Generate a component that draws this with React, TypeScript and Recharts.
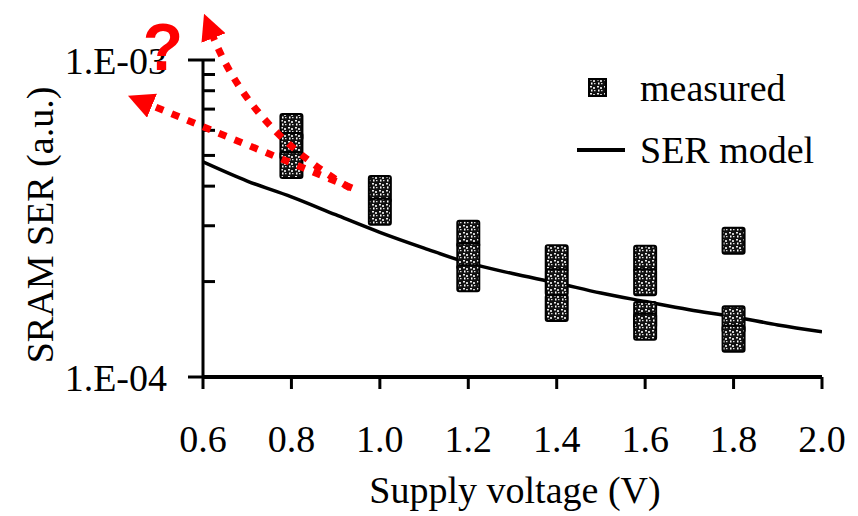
import React from "react";
import {
    ComposedChart,
    Line,
    Scatter,
    XAxis,
    YAxis,
} from "recharts";

const FONT = '"Liberation Serif", "Times New Roman", serif';

// SER model curve
const modelVoltage = [0.6, 0.7, 0.8, 0.9, 1.0, 1.1, 1.2, 1.3, 1.4, 1.5, 1.6, 1.7, 1.8, 1.9, 2.0];
const modelSer = [
    4.77e-4, 4.15e-4, 3.7e-4, 3.25e-4, 2.86e-4, 2.55e-4, 2.29e-4, 2.12e-4,
    1.98e-4, 1.84e-4, 1.73e-4, 1.63e-4, 1.55e-4, 1.46e-4, 1.39e-4,
];

// measured points (stacked squares)
const measuredVoltage = [
    0.8, 0.8, 0.8,
    1.0, 1.0,
    1.2, 1.2, 1.2,
    1.4, 1.4, 1.4,
    1.6, 1.6, 1.6, 1.6,
    1.8, 1.8, 1.8,
];
const measuredSer = [
    6.15e-4, 5.35e-4, 4.66e-4,
    3.92e-4, 3.32e-4,
    2.83e-4, 2.41e-4, 2.05e-4,
    2.37e-4, 1.99e-4, 1.65e-4,
    2.36e-4, 1.99e-4, 1.57e-4, 1.44e-4,
    2.69e-4, 1.52e-4, 1.32e-4,
];

const xTicks = [0.6, 0.8, 1.0, 1.2, 1.4, 1.6, 1.8, 2.0];
const yTicks = [1e-4, 2e-4, 3e-4, 4e-4, 5e-4, 6e-4, 7e-4, 8e-4, 9e-4, 1e-3];
const yLabels: Record<string, string> = { "0.0001": "1.E-04", "0.001": "1.E-03" };

const modelData = modelVoltage.map((v, i) => ({ v, ser: modelSer[i] }));
const measuredData = measuredVoltage.map((v, i) => ({ v, ser: measuredSer[i] }));

function SpeckleDefs() {
    return (
        <defs>
            <pattern id="speckle" width="7" height="7" patternUnits="userSpaceOnUse">
                <rect width="7" height="7" fill="#111" />
                <rect x="1" y="1" width="2" height="1.5" fill="#eee" />
                <rect x="4" y="2" width="2" height="2" fill="#ccc" />
                <rect x="2" y="4.5" width="1.5" height="2" fill="#fff" />
                <rect x="5" y="5" width="1.5" height="1.2" fill="#ddd" />
            </pattern>
        </defs>
    );
}

function MeasuredShape(props: any) {
    const { cx, cy } = props;
    const w = 22;
    const h = 26;
    return (
        <g>
            <SpeckleDefs />
            <rect
                x={cx - w / 2}
                y={cy - h / 2}
                width={w}
                height={h}
                fill="url(#speckle)"
                stroke="#000"
                strokeWidth={2}
                rx={2}
            />
        </g>
    );
}

function YTick(props: any) {
    const { x, y, payload } = props;
    const label = yLabels[String(payload.value)];
    const major = !!label;
    return (
        <g>
            <line x1={major ? x - 15 : x} x2={x + 12} y1={y} y2={y} stroke="#000" strokeWidth={3} />
            {major && (
                <text x={x - 36} y={y} dy="0.36em" textAnchor="end" fontSize={38} fontFamily={FONT} fill="#000">
                    {label}
                </text>
            )}
        </g>
    );
}

function ChartLegend() {
    return (
        <div
            style={{
                position: "absolute",
                left: 575,
                top: 57,
                fontFamily: FONT,
                fontSize: 38,
                color: "#000",
                lineHeight: "62px",
            }}
        >
            <div style={{ display: "flex", alignItems: "center" }}>
                <svg width={65} height={62}>
                    <SpeckleDefs />
                    <rect x={14} y={22} width={17} height={17} fill="url(#speckle)" stroke="#000" strokeWidth={2} />
                </svg>
                <span>measured</span>
            </div>
            <div style={{ display: "flex", alignItems: "center" }}>
                <svg width={65} height={62}>
                    <line x1={2} x2={50} y1={31} y2={31} stroke="#000" strokeWidth={4} />
                </svg>
                <span>SER model</span>
            </div>
        </div>
    );
}

export default function App() {
    return (
        <div style={{ position: "absolute", left: 0, top: 0, width: 858, height: 516, background: "#fff" }}>
            <ComposedChart
                width={858}
                height={516}
                margin={{ top: 60, right: 36, left: 83, bottom: 79 }}
            >
                <XAxis
                    type="number"
                    dataKey="v"
                    domain={[0.6, 2.0]}
                    ticks={xTicks}
                    tickFormatter={(v: number) => v.toFixed(1)}
                    height={60}
                    axisLine={{ stroke: "#000", strokeWidth: 4 }}
                    tickLine={{ stroke: "#000", strokeWidth: 3 }}
                    tickSize={12}
                    tickMargin={36}
                    tick={{ fontSize: 38, fontFamily: FONT, fill: "#000" }}
                    allowDataOverflow
                />
                <YAxis
                    type="number"
                    dataKey="ser"
                    scale="log"
                    domain={[1e-4, 1e-3]}
                    ticks={yTicks}
                    width={120}
                    axisLine={{ stroke: "#000", strokeWidth: 3 }}
                    tickLine={false}
                    tickSize={0}
                    tickMargin={0}
                    tick={<YTick />}
                    interval={0}
                    allowDataOverflow
                />
                <Line
                    data={modelData}
                    dataKey="ser"
                    name="SER model"
                    type="monotone"
                    stroke="#000"
                    strokeWidth={3.5}
                    dot={false}
                    isAnimationActive={false}
                />
                <Scatter
                    data={measuredData}
                    dataKey="ser"
                    name="measured"
                    shape={MeasuredShape}
                    isAnimationActive={false}
                />
            </ComposedChart>
            <ChartLegend />
            <svg
                width={858}
                height={516}
                style={{ position: "absolute", left: 0, top: 0, pointerEvents: "none" }}
            >
                <defs>
                    <marker
                        id="redHead"
                        viewBox="0 0 24 24"
                        markerWidth={26}
                        markerHeight={26}
                        refX={4}
                        refY={12}
                        orient="auto"
                        markerUnits="userSpaceOnUse"
                    >
                        <path d="M0,0 L24,12 L0,24 z" fill="#ff0000" />
                    </marker>
                </defs>
                <text
                    x={40}
                    y={225}
                    transform="rotate(-90 40 225)"
                    textAnchor="middle"
                    dy="0.35em"
                    fontSize={38}
                    fontFamily={FONT}
                    fill="#000"
                >
                    SRAM SER (a.u.)
                </text>
                <text x={515} y={490} textAnchor="middle" dy="0.35em" fontSize={38} fontFamily={FONT} fill="#000">
                    Supply voltage (V)
                </text>
                <path
                    d="M350,188 Q250,130 212,34"
                    fill="none"
                    stroke="#ff0000"
                    strokeWidth={7}
                    strokeDasharray="8 9"
                    markerEnd="url(#redHead)"
                />
                <path
                    d="M352,188 L148,104"
                    fill="none"
                    stroke="#ff0000"
                    strokeWidth={7}
                    strokeDasharray="8 9"
                    markerEnd="url(#redHead)"
                />
                <text
                    x={163}
                    y={70}
                    textAnchor="middle"
                    fontSize={66}
                    fontWeight="bold"
                    fontFamily='"Liberation Sans", Arial, sans-serif'
                    fill="#ff0000"
                >
                    ?
                </text>
            </svg>
        </div>
    );
}
